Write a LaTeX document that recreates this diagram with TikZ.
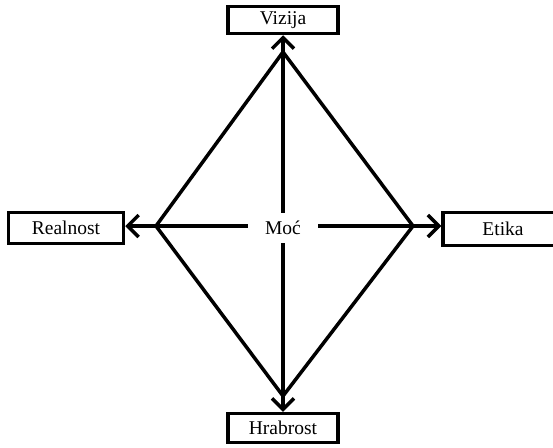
\documentclass[tikz,border=0pt]{standalone}
\usepackage{fontspec}
\setmainfont{Liberation Serif}
\usetikzlibrary{arrows.meta}
\begin{document}
\begin{tikzpicture}[x=1pt,y=-1pt,
  lbl/.style={draw,line width=3.5pt,font=\fontsize{19.5}{22}\selectfont,inner sep=0pt,anchor=center},
  conn/.style={line width=3.5pt},
  arr/.style={line width=3.5pt,-{Straight Barb[length=11pt,width=22pt,line width=3.5pt]}}]
\useasboundingbox (0,0) rectangle (553,447);
\clip (0,0) rectangle (553,447);
\node[lbl,minimum width=110pt,minimum height=27pt] (viz) at (283,20) {Vizija};
\node[lbl,minimum width=115pt,minimum height=31pt] (real) at (66,228) {Realnost};
\node[lbl,minimum width=120pt,minimum height=33pt] (eti) at (503,229) {Etika};
\node[lbl,minimum width=110pt,minimum height=29pt] (hra) at (283,428) {Hrabrost};
\node[font=\fontsize{19.5}{22}\selectfont,minimum width=70pt,minimum height=30pt,inner sep=0pt] (moc) at (283,228) {Moć};
\coordinate (T) at (283,52);
\coordinate (L) at (156,226);
\coordinate (R) at (413,226);
\coordinate (B) at (283,396);
\draw[conn,line join=miter] (T) -- (L) -- (B) -- (R) -- cycle;
\draw[arr] (moc.north) -- (viz.south);
\draw[arr] (moc.south) -- (hra.north);
\draw[arr] (moc.west |- L) -- (real.east |- L);
\draw[arr] (moc.east |- R) -- (eti.west |- R);
\end{tikzpicture}
\end{document}
